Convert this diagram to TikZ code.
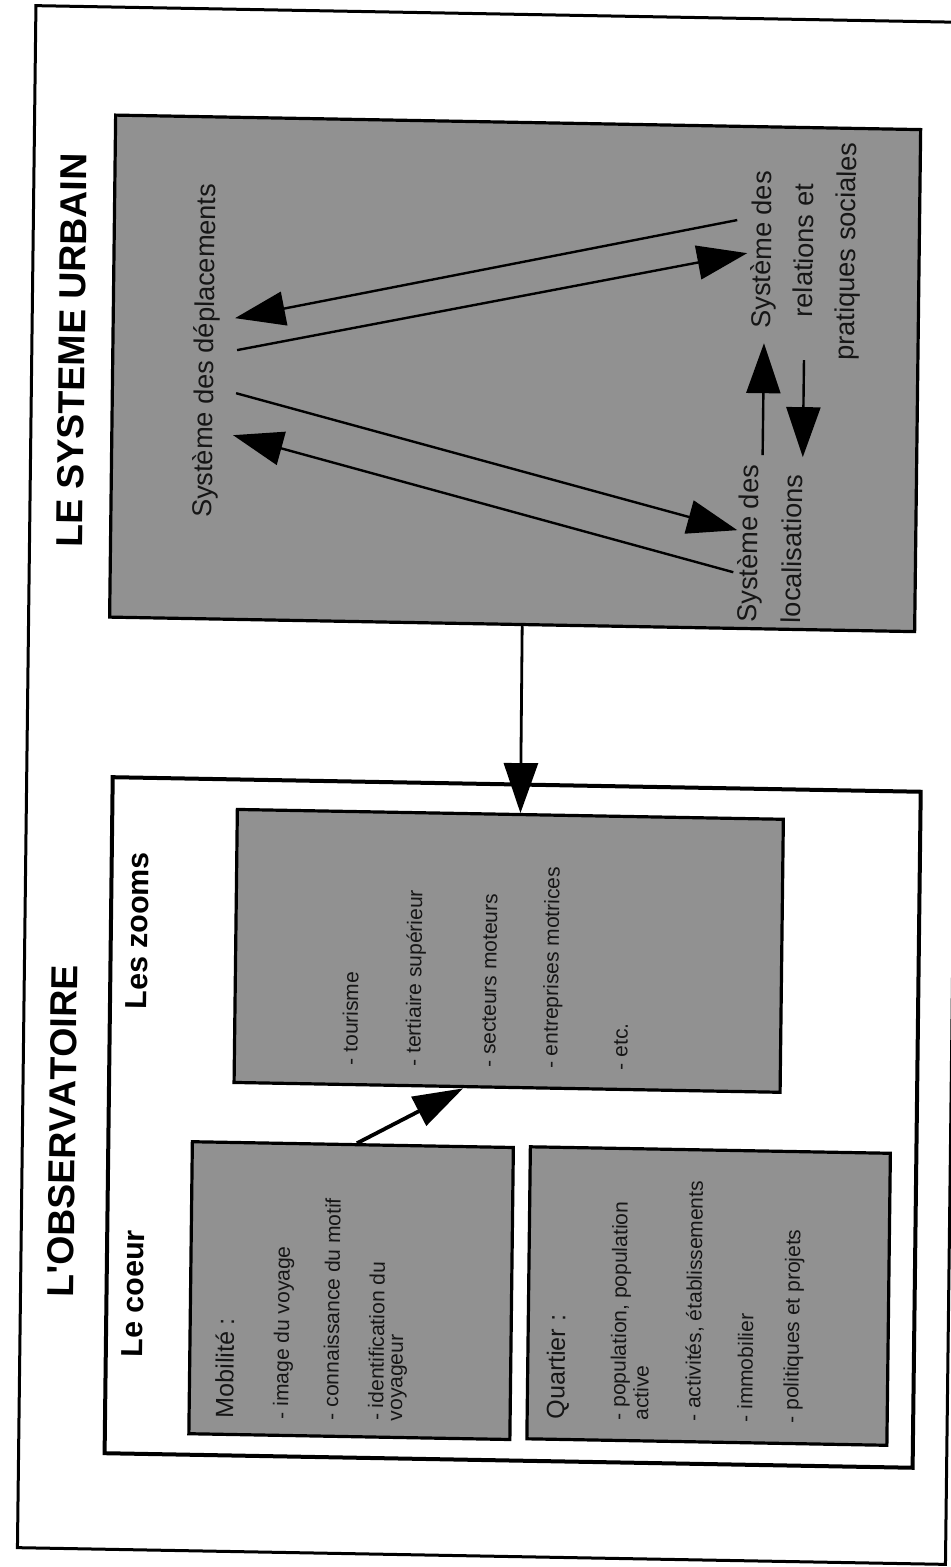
\documentclass[tikz,border=0pt]{standalone}
\usepackage{fontspec}
\setmainfont{Liberation Sans}[Ligatures=TeXOff]
\usetikzlibrary{arrows.meta,calc}
\definecolor{boxgrey}{RGB}{145,145,145}
\definecolor{inkdark}{RGB}{22,22,22}
\begin{document}
\begin{tikzpicture}[x=0.5pt,y=-0.5pt,
  frameline/.style={draw=black,line width=1.5pt},
  panel/.style={draw=black,line width=1.6pt,fill=boxgrey,rectangle,inner sep=0pt,transform shape},
  whitepanel/.style={draw=black,line width=2pt,fill=white,rectangle,inner sep=0pt,transform shape},
  bigtitle/.style={font=\bfseries\fontsize{18.75}{22}\selectfont\addfontfeatures{Kerning=Off},rotate=90,transform shape,inner sep=0pt,anchor=base},
  sectitle/.style={font=\bfseries\fontsize{15.2}{18}\selectfont,rotate=90,transform shape,inner sep=0pt,anchor=base},
  systext/.style={font=\fontsize{13.6}{16}\selectfont,text=inkdark,rotate=90,transform shape,inner sep=0pt},
  headtext/.style={font=\fontsize{12.5}{15}\selectfont,text=inkdark,rotate=90,transform shape,inner sep=0pt,anchor=base west},
  itemtext/.style={font=\fontsize{10.5}{12}\selectfont,text=inkdark,rotate=90,transform shape,inner sep=0pt,anchor=base west},
  arr/.style={draw=black,line width=1.2pt,-{Triangle[length=25pt,width=17pt]}},
  thickarr/.style={draw=black,line width=1.9pt,-{Triangle[length=25pt,width=16pt]}}]
\useasboundingbox (0,0) rectangle (950,1567);
\fill[white] (0,0) rectangle (950,1567);
\begin{scope}[cm={1,-0.018,0.012,1,(0,0)}]
  % outer frame
  \draw[frameline] (36,5) rectangle (964,1547);
  % panels
  \node[panel,minimum width=402.5pt,minimum height=251pt] (urbain) at (519.5,364) {};
  \node[whitepanel,minimum width=404pt,minimum height=338pt] (observ) at (526,1113) {};
  \node[panel,minimum width=273pt,minimum height=136.5pt] (zooms) at (520,941.5) {};
  \node[panel,minimum width=160.5pt,minimum height=146pt] (mob) at (366.5,1284) {};
  \node[panel,minimum width=180pt,minimum height=146pt] (quart) at (724,1283) {};

  % titles
  \node[bigtitle] (t1) at (89,349) {LE SYSTEME URBAIN};
  \node[bigtitle] (t2) at (89,1130) {L'OBSERVATOIRE};
  \node[sectitle] (t3) at (159,928) {Les zooms};
  \node[sectitle] (t4) at (159,1291) {Le coeur};

  % systeme urbain texts
  \node[systext,anchor=base] (depl) at (218,347) {Système des déplacements};
  \node[systext,anchor=base] (rel1) at (774,236) {Système des};
  \node[systext,anchor=base] (rel2) at (816,236) {relations et};
  \node[systext,anchor=base] (rel3) at (858,236) {pratiques sociales};
  \node[systext,anchor=base west] (loc1) at (764,609) {Système des};
  \node[systext,anchor=base west] (loc2) at (808,609) {localisations};

  % zooms items
  \node[itemtext] (z1) at (370,1059) {- tourisme};
  \node[itemtext] (z2) at (433,1059) {- tertiaire supérieur};
  \node[itemtext] (z3) at (508,1059) {- secteurs moteurs};
  \node[itemtext] (z4) at (570,1059) {- entreprises motrices};
  \node[itemtext] (z5) at (640,1059) {- etc.};

  % mobilite
  \node[headtext] (m0) at (250,1414) {Mobilité :};
  \node[itemtext] (m1) at (305,1414) {- image du voyage};
  \node[itemtext] (m2) at (355,1414) {- connaissance du motif};
  \node[itemtext] (m3) at (400,1414) {- identification du};
  \node[itemtext] (m4) at (419,1414) {voyageur};

  % quartier
  \node[headtext] (q0) at (581,1409) {Quartier :};
  \node[itemtext] (q1) at (642,1409) {- population, population};
  \node[itemtext] (q2) at (665,1409) {active};
  \node[itemtext] (q3) at (717,1409) {- activités, établissements};
  \node[itemtext] (q4) at (769,1409) {- immobilier};
  \node[itemtext] (q5) at (815,1409) {- politiques et projets};

  % connector end points inside the urban system panel
  \coordinate (relOutA) at (739.6,206.7);
  \coordinate (deplInA) at (238.8,313.8);
  \coordinate (deplOutA) at (241.2,345.7);
  \coordinate (relInA) at (750,239.6);
  \coordinate (deplOutB) at (240.7,388.8);
  \coordinate (locInA) at (743.4,516.7);
  \coordinate (locOutA) at (739.9,558.8);
  \coordinate (deplInB) at (238.2,430.8);
  \coordinate (locOutB) at (767.8,441.3);
  \coordinate (relInB) at (767.8,329.3);
  \coordinate (relOutB) at (808,345.5);
  \coordinate (locInB) at (808,442.5);

  \draw[arr] (relOutA) -- (deplInA);
  \draw[arr] (deplOutA) -- (relInA);
  \draw[arr] (deplOutB) -- (locInA);
  \draw[arr] (locOutA) -- (deplInB);
  \draw[arr] (locOutB) -- (relInB);
  \draw[arr] (relOutB) -- (locInB);

  % main connectors
  \draw[arr,line width=1.4pt] ($(urbain.south)+(10,0)$) -- ($(zooms.north)+(10,0)$);
  \draw[thickarr] ($(mob.north)+(4,0)$) -- ($(zooms.south)+(-44,0)$);
\end{scope}
\end{tikzpicture}
\end{document}
